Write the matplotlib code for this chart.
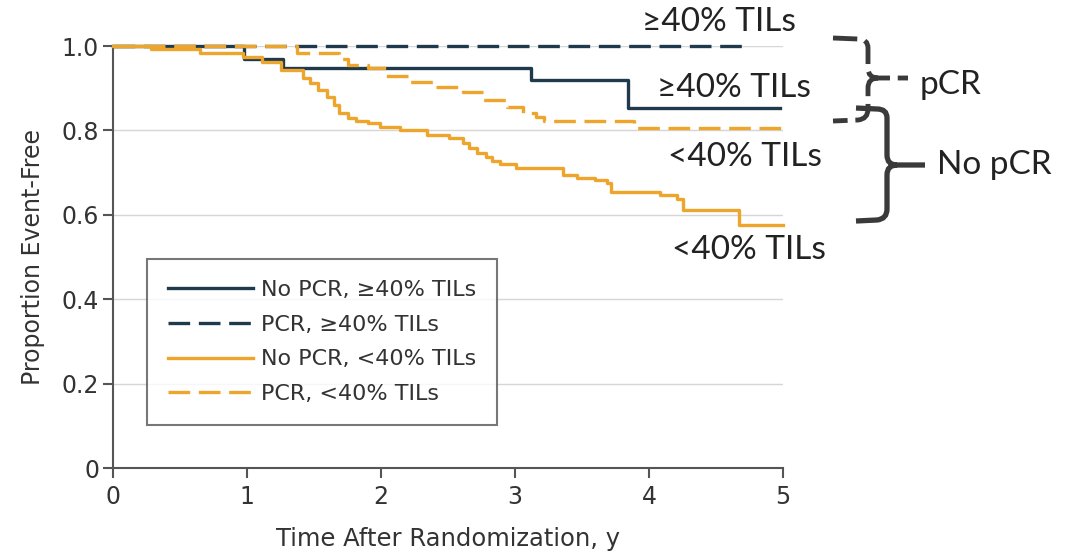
import matplotlib
matplotlib.use("Agg")
import matplotlib.pyplot as plt
from matplotlib.path import Path
from matplotlib.patches import PathPatch

# Kaplan-Meier step curves: event times (years) and event-free proportion after each step
nopcr_hi_t = [0, 0.98, 1.27, 3.12, 3.84, 4.98]
nopcr_hi_s = [1.0, 0.969, 0.948, 0.919, 0.853, 0.853]

pcr_hi_t = [0, 4.74]
pcr_hi_s = [1.0, 1.0]

nopcr_lo_t = [0, 0.28, 0.65, 0.97, 1.11, 1.25, 1.42, 1.47, 1.53, 1.60, 1.65, 1.69,
              1.75, 1.81, 1.90, 1.99, 2.14, 2.34, 2.51, 2.61, 2.66, 2.72, 2.78, 2.83,
              2.89, 3.01, 3.36, 3.46, 3.60, 3.69, 3.72, 4.08, 4.21, 4.25, 4.67, 5.0]
nopcr_lo_s = [1.0, 0.993, 0.983, 0.974, 0.962, 0.943, 0.924, 0.912, 0.896, 0.879, 0.860, 0.841,
              0.829, 0.822, 0.818, 0.808, 0.801, 0.789, 0.782, 0.770, 0.758, 0.746, 0.737, 0.727,
              0.720, 0.711, 0.694, 0.687, 0.682, 0.675, 0.654, 0.647, 0.637, 0.611, 0.576, 0.576]

pcr_lo_t = [0, 1.37, 1.69, 1.75, 1.90, 2.04, 2.22, 2.39, 2.61, 2.76, 2.94, 3.06, 3.16, 3.22, 3.89, 5.0]
pcr_lo_s = [1.0, 0.983, 0.969, 0.955, 0.948, 0.929, 0.915, 0.903, 0.891, 0.872, 0.855, 0.841,
            0.832, 0.822, 0.806, 0.806]

labels = ["No PCR, \u226540% TILs", "PCR, \u226540% TILs", "No PCR, <40% TILs", "PCR, <40% TILs"]
x_ticks = [0, 1, 2, 3, 4, 5]
y_ticks = [0, 0.2, 0.4, 0.6, 0.8, 1.0]
y_ticklabels = ["0", "0.2", "0.4", "0.6", "0.8", "1.0"]

navy = "#1e3a4c"
orange = "#eda52c"
grey = "#555555"
txt = "#333333"

W, H = 1069, 552
fig = plt.figure(figsize=(W / 100, H / 100), dpi=100)
ax = fig.add_axes([113 / W, 1 - 468 / H, 670 / W, 422 / H])

for y in y_ticks[1:]:
    ax.axhline(y, color="#d6d6d6", lw=1.0, zorder=0)

lw = 2.4
dash = (0, (6.5, 2.6))
l1, = ax.step(pcr_hi_t, pcr_hi_s, where="post", color=navy, lw=lw, ls=dash, clip_on=False, zorder=2)
l0, = ax.step(nopcr_hi_t, nopcr_hi_s, where="post", color=navy, lw=lw, clip_on=False, zorder=3)
l2, = ax.step(nopcr_lo_t, nopcr_lo_s, where="post", color=orange, lw=lw, clip_on=False, zorder=4)
l3, = ax.step(pcr_lo_t, pcr_lo_s, where="post", color=orange, lw=lw, ls=dash, clip_on=False, zorder=5)

ax.set_xlim(0, 5)
ax.set_ylim(0, 1.0)
ax.set_xticks(x_ticks)
ax.set_yticks(y_ticks)
ax.set_yticklabels(y_ticklabels)
for s in ["top", "right"]:
    ax.spines[s].set_visible(False)
for s in ["left", "bottom"]:
    ax.spines[s].set_color(grey)
    ax.spines[s].set_linewidth(1.5)
ax.tick_params(axis="both", colors=grey, width=1.5, length=7, labelsize=17, labelcolor=txt)
ax.tick_params(axis="x", pad=5)
ax.tick_params(axis="y", pad=3)
ax.set_xlabel("Time After Randomization, y", fontsize=17.5, color=txt, labelpad=13)
ax.set_ylabel("Proportion Event-Free", fontsize=17, color=txt, labelpad=12)

leg = ax.legend([l0, l1, l2, l3], labels, loc="upper left",
                bbox_to_anchor=(147 / W, 1 - 259 / H), bbox_transform=fig.transFigure,
                borderaxespad=0, fontsize=16, frameon=True, fancybox=False,
                edgecolor=grey, handlelength=3.8, handletextpad=0.38,
                labelspacing=0.66, borderpad=0.95)
leg.get_frame().set_linewidth(1.5)
for t in leg.get_texts():
    t.set_color(txt)

# overlay in pixel units for the side labels and brackets
ov = fig.add_axes([0, 0, 1, 1])
ov.set_xlim(0, W)
ov.set_ylim(H, 0)
ov.axis("off")

side = ["Lato", "DejaVu Sans"]
fs = 24
ink = "#222222"
ov.text(642, 22, "\u226540% TILs", fontsize=fs, family=side, color=ink, va="center")
ov.text(657, 88, "\u226540% TILs", fontsize=fs, family=side, color=ink, va="center")
ov.text(668, 157, "<40% TILs", fontsize=fs, family=side, color=ink, va="center")
ov.text(672, 250, "<40% TILs", fontsize=fs, family=side, color=ink, va="center")
ov.text(920, 85, "pCR", fontsize=fs, family=side, color=ink, va="center")
ov.text(937, 165, "No pCR", fontsize=fs, family=side, color=ink, va="center")

M, L, C = Path.MOVETO, Path.LINETO, Path.CURVE3


def brace(x0, xs, xn, ytop, ymid, ybot, r, **kw):
    verts = [(x0, ytop), (xs - r, ytop + 1), (xs, ytop + 1), (xs, ytop + r),
             (xs, ymid - r), (xs, ymid), (xs + r, ymid), (xn, ymid),
             (xs + r, ymid), (xs, ymid), (xs, ymid + r),
             (xs, ybot - r), (xs, ybot), (xs - r, ybot + 1), (x0, ybot + 2)]
    codes = [M, L, C, C, L, C, C, L, M, C, C, L, C, C, L]
    ov.add_patch(PathPatch(Path(verts, codes), fill=False, **kw))


brace(833, 868, 908, 38, 78, 119, 10, color="#3a3a3a", lw=3.5, ls=(0, (5, 1.6)),
      capstyle="butt")
brace(856, 887, 925, 108, 165, 219, 10, color="#3a3a3a", lw=3.8)

fig.savefig("out.png", dpi=100)
